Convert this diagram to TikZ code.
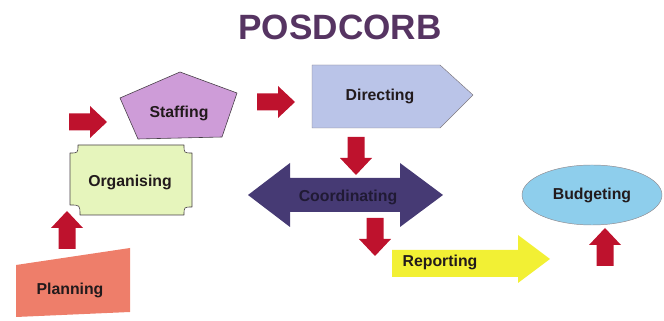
\documentclass[tikz,border=0pt]{standalone}
\usepackage{fontspec}
\setmainfont{Liberation Sans}
\usetikzlibrary{shapes.geometric}

\definecolor{rouge}{RGB}{190,18,45}
\definecolor{titre}{RGB}{86,52,98}
\definecolor{texte}{RGB}{34,26,28}
\definecolor{bord}{RGB}{70,62,70}
\definecolor{mauve}{RGB}{206,156,216}
\definecolor{citron}{RGB}{230,245,188}
\definecolor{saumon}{RGB}{238,126,106}
\definecolor{bleupale}{RGB}{186,196,232}
\definecolor{indigo}{RGB}{70,58,116}
\definecolor{jaune}{RGB}{242,240,52}
\definecolor{ciel}{RGB}{142,206,236}

\begin{document}
\begin{tikzpicture}[x=0.03cm, y=-0.03cm, line join=round,
    etiquette/.style={font=\fontsize{13.5}{16}\selectfont\bfseries, text=texte},
    contour/.style={draw=bord, line width=0.5pt},
    fleche/.pic={\fill[rouge] (-19,-8.5) -- (2,-8.5) -- (2,-16) -- (19,0) -- (2,16) -- (2,8.5) -- (-19,8.5) -- cycle;}]

    \useasboundingbox (0,0) rectangle (664,321);

    % Titre
    \node[font=\fontsize{30}{34}\selectfont\bfseries, text=titre] (titre) at (340,27) {POSDCORB};

    % Planning (quadrilatere)
    \fill[saumon] (16,265) -- (130,248) -- (130,312) -- (16,317) -- cycle;
    \node[etiquette] (planning) at (70,290) {Planning};

    % Organising (coins creux)
    \filldraw[fill=citron, contour] (78,145) -- (184,145) .. controls (184,153) .. (192,153)
        -- (192,207) .. controls (184,207) .. (184,215) -- (80,215) .. controls (80,205) .. (70,205)
        -- (70,153) .. controls (78,153) .. (78,145) -- cycle;
    \node[etiquette] (organising) at (130,182) {Organising};

    % Staffing (pentagone)
    \filldraw[fill=mauve, contour] (180,72) -- (237,93) -- (222,137) -- (138,139) -- (120,98) -- cycle;
    \node[etiquette] (staffing) at (179,113) {Staffing};

    % Directing
    \filldraw[fill=bleupale, draw=bord!70, line width=0.4pt] (312,65) -- (440,65) -- (473,95) -- (440,128) -- (312,128) -- cycle;
    \node[etiquette] (directing) at (380,96) {Directing};

    % Coordinating (double fleche)
    \fill[indigo] (248,195) -- (290,163) -- (290,178) -- (400,178) -- (400,163) -- (443,195)
        -- (400,227) -- (400,212) -- (290,212) -- (290,227) -- cycle;
    \node[etiquette, text=indigo!45!black] (coordinating) at (348,197) {Coordinating};

    % Reporting
    \fill[jaune] (392,250) -- (518,250) -- (518,235) -- (550,259) -- (518,283) -- (518,277) -- (392,277) -- cycle;
    \node[etiquette] (reporting) at (440,262) {Reporting};

    % Budgeting
    \node[ellipse, fill=ciel, draw=bord!60, line width=0.4pt, minimum width=4.2cm, minimum height=1.8cm,
        etiquette] (budgeting) at (592,195) {Budgeting};

    % Fleches rouges
    \pic at (88,122) {fleche};
    \pic at (276,102) {fleche};
    \pic[rotate=90] at (67,230) {fleche};
    \pic[rotate=-90] at (356,156) {fleche};
    \pic[rotate=-90] at (375,237) {fleche};
    \pic[rotate=90] at (605,247) {fleche};
\end{tikzpicture}
\end{document}
